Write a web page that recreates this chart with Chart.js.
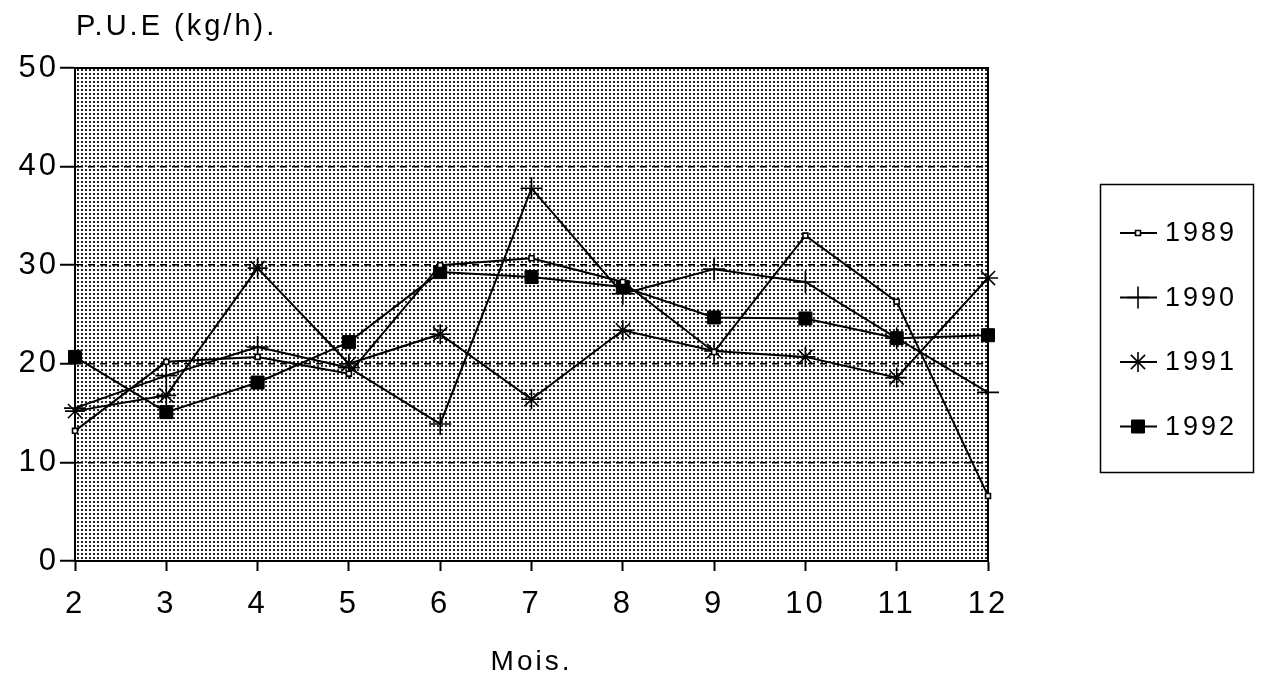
<!DOCTYPE html>
<html>
<head>
<meta charset="utf-8">
<title>P.U.E (kg/h) par mois, 1989-1992</title>
<script src="https://cdn.jsdelivr.net/npm/chart.js@4/dist/chart.umd.min.js"></script>
<style>
  html, body { margin: 0; padding: 0; background: #fff; }
  #wrap { width: 1266px; height: 683px; }
</style>
</head>
<body>
<div id="wrap"><canvas id="pueChart" width="1266" height="683"></canvas></div>
<script>
// mois (axe x) et P.U.E par année
const months = ['2', '3', '4', '5', '6', '7', '8', '9', '10', '11', '12'];
const pue1989 = [13.2, 20.2, 20.7, 19.0, 30.0, 30.7, 28.3, 21.2, 33.0, 26.3, 6.6];
const pue1990 = [15.5, 18.8, 21.7, 19.6, 13.9, 37.8, 27.1, 29.6, 28.3, 22.6, 17.1];
const pue1991 = [15.2, 16.8, 29.7, 20.0, 23.0, 16.4, 23.4, 21.3, 20.7, 18.6, 28.7];
const pue1992 = [20.7, 15.1, 18.1, 22.2, 29.3, 28.8, 27.8, 24.7, 24.6, 22.6, 22.9];
const yTicks = [0, 10, 20, 30, 40, 50];

const SPACING = '3px';
const FAMILY = "'Liberation Sans', Arial, sans-serif";
Chart.defaults.font.family = FAMILY;
Chart.defaults.color = '#000';

// fine dot screen used as the plot background
function dotPattern(ctx) {
    const tile = document.createElement('canvas');
    tile.width = 4;
    tile.height = 4;
    const t = tile.getContext('2d');
    t.fillStyle = '#fff';
    t.fillRect(0, 0, 4, 4);
    t.fillStyle = '#262626';
    t.fillRect(1, 1, 2, 2);
    return ctx.createPattern(tile, 'repeat');
}

const paperLook = {
    id: 'paperLook',
    beforeLayout(chart) {
        chart.ctx.letterSpacing = SPACING;
    },
    beforeDraw(chart) {
        const { ctx, chartArea: a } = chart;
        ctx.letterSpacing = SPACING;
        ctx.save();
        ctx.fillStyle = dotPattern(ctx);
        ctx.fillRect(a.left, a.top, a.right - a.left, a.bottom - a.top);
        ctx.restore();
    },
    beforeDatasetsDraw(chart) {
        const { ctx, chartArea: a } = chart;
        ctx.save();
        ctx.strokeStyle = '#000';
        ctx.lineWidth = 2;
        ctx.beginPath();
        ctx.moveTo(a.left, a.top);
        ctx.lineTo(a.right, a.top);
        ctx.lineTo(a.right, a.bottom);
        ctx.stroke();
        // unit label above the y axis
        ctx.font = '29px ' + FAMILY;
        ctx.fillStyle = '#000';
        ctx.textBaseline = 'middle';
        ctx.textAlign = 'left';
        ctx.fillText('P.U.E (kg/h).', a.left + 1, 27);
        ctx.restore();
    },
    afterDraw(chart) {
        // boxed legend on the right: line + marker + year
        const ctx = chart.ctx;
        const box = { x: 1100, y: 184, w: 153, h: 288 };
        ctx.save();
        ctx.letterSpacing = SPACING;
        ctx.strokeStyle = '#000';
        ctx.lineWidth = 1.5;
        ctx.strokeRect(box.x + 0.5, box.y + 0.5, box.w, box.h);
        ctx.font = '27px ' + FAMILY;
        ctx.textBaseline = 'middle';
        ctx.textAlign = 'left';
        chart.data.datasets.forEach((ds, i) => {
            const y = box.y + 49 + i * 64.5;
            ctx.strokeStyle = '#000';
            ctx.lineWidth = 2;
            ctx.beginPath();
            ctx.moveTo(box.x + 20, y);
            ctx.lineTo(box.x + 57, y);
            ctx.stroke();
            ctx.fillStyle = ds.pointBackgroundColor;
            ctx.lineWidth = ds.pointBorderWidth;
            Chart.helpers.drawPoint(ctx, {
                pointStyle: ds.pointStyle,
                radius: ds.pointRadius,
                rotation: 0,
                borderWidth: ds.pointBorderWidth
            }, box.x + 38, y);
            ctx.fillStyle = '#000';
            ctx.fillText(ds.label, box.x + 65, y + 1);
        });
        ctx.restore();
    }
};

function series(label, data, style, radius, fill, bw) {
    return {
        label: label,
        data: data,
        borderColor: '#000',
        borderWidth: 2,
        tension: 0,
        fill: false,
        pointStyle: style,
        pointRadius: radius,
        pointHoverRadius: radius,
        pointBackgroundColor: fill,
        pointBorderColor: '#000',
        pointBorderWidth: bw
    };
}

const ctx = document.getElementById('pueChart').getContext('2d');

new Chart(ctx, {
    type: 'line',
    data: {
        labels: months,
        datasets: [
            series('1989', pue1989, 'rect', 3.5, '#fff', 1.6),
            series('1990', pue1990, 'cross', 11, '#000', 1.6),
            series('1991', pue1991, 'star', 10, '#000', 1.6),
            series('1992', pue1992, 'rect', 9.2, '#000', 1)
        ]
    },
    options: {
        responsive: false,
        animation: false,
        events: [],
        layout: {
            padding: { top: 68, right: 278, bottom: 0, left: 0 }
        },
        plugins: {
            legend: { display: false },
            tooltip: { enabled: false }
        },
        scales: {
            x: {
                type: 'category',
                offset: false,
                afterFit(scale) { scale.height = 122; },
                grid: {
                    drawOnChartArea: false,
                    drawTicks: true,
                    tickLength: 10,
                    tickColor: '#000',
                    tickWidth: 2,
                    color: '#000'
                },
                border: { display: true, color: '#000', width: 2 },
                ticks: {
                    font: { size: 31 },
                    padding: 15,
                    maxRotation: 0,
                    autoSkip: false
                },
                title: {
                    display: true,
                    text: 'Mois.',
                    font: { size: 28 },
                    padding: { top: 0, bottom: 4 }
                }
            },
            y: {
                min: yTicks[0],
                max: yTicks[yTicks.length - 1],
                afterFit(scale) { scale.width = 75; },
                afterBuildTicks(scale) {
                    scale.ticks = yTicks.map(v => ({ value: v }));
                },
                grid: {
                    color: c => (c.tick && c.tick.value > yTicks[0] && c.tick.value < yTicks[yTicks.length - 1]) ? '#000' : 'rgba(0,0,0,0)',
                    lineWidth: 1.5,
                    tickLength: 15,
                    tickColor: '#000',
                    tickWidth: 2
                },
                border: { display: true, color: '#000', width: 2, dash: [7, 5] },
                ticks: {
                    font: { size: 31 },
                    padding: 1
                }
            }
        }
    },
    plugins: [paperLook]
});
</script>
</body>
</html>
